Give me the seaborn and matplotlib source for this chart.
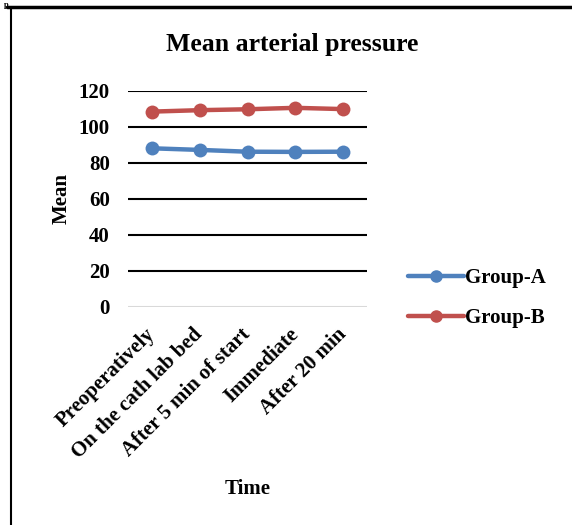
import pandas as pd
import numpy as np
import matplotlib.pyplot as plt
import seaborn as sns

# data
time_points = ["Preoperatively", "On the cath lab bed", "After 5 min of start",
               "Immediate", "After 20 min"]
group_a = [88.1, 87.2, 86.2, 86.1, 86.2]
group_b = [108.5, 109.3, 109.8, 110.6, 109.9]
groups = ["Group-A", "Group-B"]
colors = ["#4F81BD", "#C0504D"]
y_ticks = [0, 20, 40, 60, 80, 100, 120]

df = pd.DataFrame({
    "Time": time_points * 2,
    "Mean": group_a + group_b,
    "Group": [groups[0]] * len(time_points) + [groups[1]] * len(time_points),
})

sns.set_style("white")
plt.rcParams['font.family'] = ['Liberation Serif', 'DejaVu Serif']
plt.rcParams['font.weight'] = 'bold'
plt.rcParams['text.color'] = 'black'
plt.rcParams['axes.labelcolor'] = 'black'
plt.rcParams['xtick.color'] = 'black'
plt.rcParams['ytick.color'] = 'black'

fig = plt.figure(figsize=(5.72, 5.25), dpi=100)
ax = fig.add_axes([0.2238, 0.4158, 0.4178, 0.411])

sns.lineplot(data=df, x="Time", y="Mean", hue="Group", palette=colors,
             marker="o", markersize=10, linewidth=3.2, markeredgewidth=0,
             sort=False, ax=ax, legend=False)

ax.set_ylim(0, 120)
ax.set_xlim(-0.5, len(time_points) - 0.5)
ax.set_yticks(y_ticks)
ax.set_yticklabels([str(t) for t in y_ticks], fontsize=15, fontweight='bold')
ax.set_xticks(range(len(time_points)))
ax.set_xticklabels(time_points, rotation=45, ha='right', va='center',
                   rotation_mode='anchor', fontsize=15, fontweight='bold')
ax.tick_params(axis='x', length=0, pad=18, labelcolor='black')
ax.tick_params(axis='y', length=0, pad=13, labelcolor='black')

for t in y_ticks[1:]:
    ax.axhline(t, color='black', lw=1.5, zorder=0)
ax.axhline(0, color='#d9d9d9', lw=1.5, zorder=0)
for s in ax.spines.values():
    s.set_visible(False)

# chart title is centred over the whole chart area (plot + legend)
fig.text(0.51, 0.916, "Mean arterial pressure", fontsize=18.5, fontweight='bold',
         ha='center', va='center', color='black')
ax.set_ylabel("Mean", fontsize=15, fontweight='bold', labelpad=5, color='black')
ax.set_xlabel("Time", fontsize=15, fontweight='bold', labelpad=12, color='black')

handles = [plt.Line2D([], [], color=c, lw=3.2, marker='o', markersize=8) for c in colors]
leg = fig.legend(handles, groups, loc='center left', bbox_to_anchor=(0.68, 0.432),
                 frameon=False, handlelength=2.7, handletextpad=0.05,
                 labelspacing=0.95, prop={'size': 15, 'weight': 'bold'})
for txt in leg.get_texts():
    txt.set_color('black')

# frame of the source page
fig.add_artist(plt.Line2D([0.012, 1], [0.987, 0.987], color='black', lw=2.5,
                          transform=fig.transFigure))
fig.add_artist(plt.Line2D([0.020, 0.020], [0, 0.987], color='black', lw=1.5,
                          transform=fig.transFigure))
fig.text(0.006, 0.999, "p", fontsize=6, fontweight='bold', va='top')

fig.savefig("out.png", dpi=100)
